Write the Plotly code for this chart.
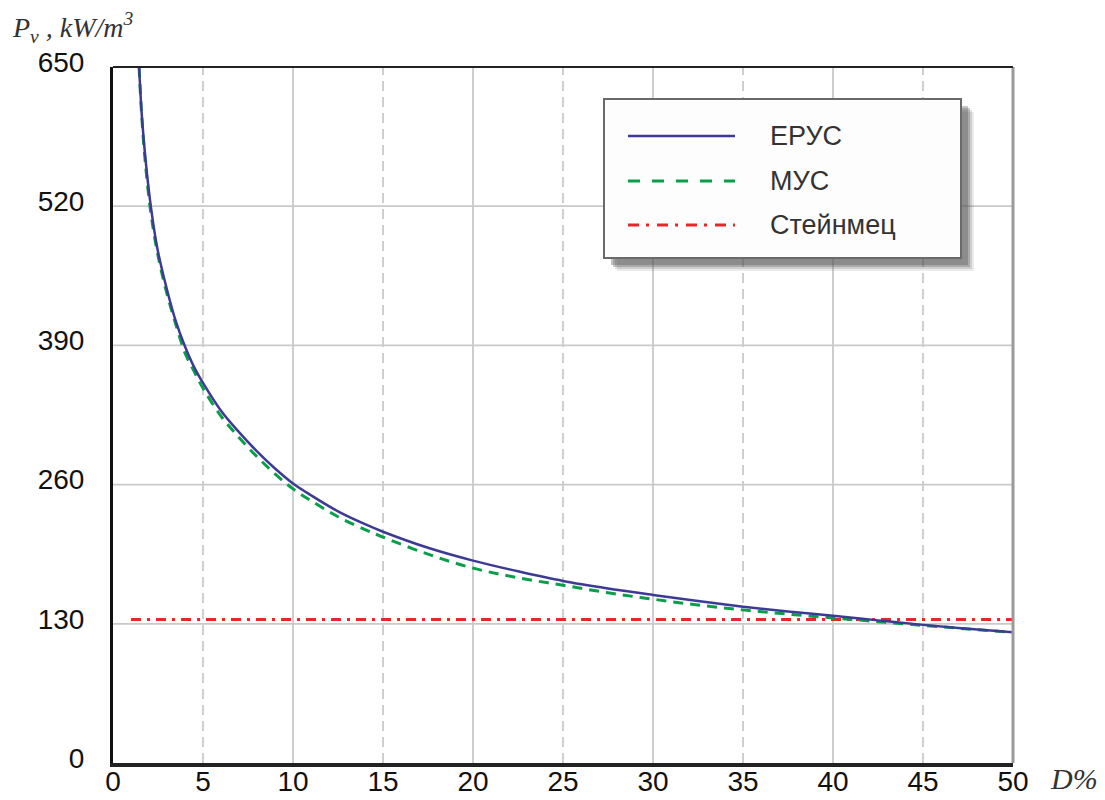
import plotly.graph_objects as go

# ---------------- data ----------------
x_erus = [1.45, 1.6, 1.8, 2.1, 2.47, 3.0, 3.5, 4.0, 4.5, 5, 6, 7, 8, 9, 10, 11, 12.5, 14, 15,
          17.5, 20, 22.5, 25, 27.5, 30, 32.5, 35, 37.5, 40, 42.5, 45, 47.5, 50]
y_erus = [650, 605, 565, 520, 480, 442, 412, 389, 370, 355, 329, 309, 291, 275, 261, 250, 235, 223, 216,
          201, 189, 179, 170, 163, 157, 151.2, 146, 141.5, 137.5, 133.2, 129.0, 125.4, 122]

x_mus = [1.45, 1.6, 1.8, 2.1, 2.5, 3.0, 3.5, 4.0, 4.5, 5, 6, 7, 8, 9, 10, 11, 12.5, 14, 15,
         17.5, 20, 22.5, 25, 27.5, 30, 32.5, 35, 37.5, 40, 42.5, 45, 47.5, 50]
y_mus = [650, 603, 560, 514, 474, 438, 409, 383, 366, 350, 324, 304, 286, 270, 256, 245, 230, 218, 211,
         195, 182, 173, 166, 159, 153, 147.5, 143, 139, 135.5, 132, 128.5, 125.2, 122]

x_stein = [1.0, 50.0]
y_stein = [134, 134]

x_ticks = [0, 5, 10, 15, 20, 25, 30, 35, 40, 45, 50]
y_ticks = [0, 130, 260, 390, 520, 650]
series_names = ["ЕРУС", "МУС", "Стейнмец"]

# ---------------- styling ----------------
W, H = 1105, 800
L, R, T, B = 113, 1013, 67, 763
C_ERUS = "#3d3a96"
C_MUS = "#0a9e48"
C_STEIN = "#e8262b"
GRID = "#c9c9c9"


def px(x):
    return (x - L) / (R - L)


def py(y):
    return (B - y) / (B - T)


fig = go.Figure()
fig.add_trace(go.Scatter(x=x_stein, y=y_stein, mode="lines", name=series_names[2],
                         line=dict(color=C_STEIN, width=2.8, dash="10px,6px,3px,6px"),
                         showlegend=False))
fig.add_trace(go.Scatter(x=x_mus, y=y_mus, mode="lines", name=series_names[1],
                         line=dict(color=C_MUS, width=3, dash="10px,7px", shape="spline", smoothing=1.0),
                         showlegend=False))
fig.add_trace(go.Scatter(x=x_erus, y=y_erus, mode="lines", name=series_names[0],
                         line=dict(color=C_ERUS, width=2.5, shape="spline", smoothing=1.0),
                         showlegend=False))

shapes = []
# grid lines
for xv in x_ticks[1:-1]:
    shapes.append(dict(type="line", xref="x", yref="paper", x0=xv, x1=xv, y0=0, y1=1,
                       line=dict(color=GRID, width=1.8, dash=("10px,6px" if xv % 10 == 5 else "solid")),
                       layer="below"))
for yv in y_ticks[1:-1]:
    shapes.append(dict(type="line", xref="paper", yref="y", x0=0, x1=1, y0=yv, y1=yv,
                       line=dict(color=GRID, width=1.8), layer="below"))
# frame: right gray, top black
shapes.append(dict(type="line", xref="paper", yref="paper", x0=1, x1=1, y0=0, y1=1,
                   line=dict(color="#9a9a9a", width=3), layer="above"))
shapes.append(dict(type="line", xref="paper", yref="paper", x0=0, x1=1, y0=1, y1=1,
                   line=dict(color="#222222", width=2), layer="above"))

# legend box with soft shadow
bx0, bx1, by0, by1 = 604, 961, 99, 258
for off, op in [(13, 0.12), (11, 0.18), (9, 0.3), (7, 0.35)]:
    shapes.append(dict(type="rect", xref="paper", yref="paper",
                       x0=px(bx0 + off), x1=px(bx1 + off), y0=py(by1 + off), y1=py(by0 + off),
                       fillcolor="#555555", opacity=op, line=dict(width=0), layer="above"))
shapes.append(dict(type="rect", xref="paper", yref="paper",
                   x0=px(bx0), x1=px(bx1), y0=py(by1), y1=py(by0),
                   fillcolor="#fdfdfd", line=dict(color="#6a6a6a", width=2), layer="above"))
leg_y = [136, 181, 225]
leg_style = [(C_ERUS, "solid", 2.5), (C_MUS, "12px,12px", 3), (C_STEIN, "11px,7px,3px,8px", 3)]
for ly, (c, d, w) in zip(leg_y, leg_style):
    shapes.append(dict(type="line", xref="paper", yref="paper", x0=px(628), x1=px(735), y0=py(ly), y1=py(ly),
                       line=dict(color=c, width=w, dash=d), layer="above"))

annotations = []
for ly, name in zip(leg_y, series_names):
    annotations.append(dict(xref="paper", yref="paper", x=px(768), y=py(ly), text=name, showarrow=False,
                            xanchor="left", yanchor="middle",
                            font=dict(family="Liberation Sans, Arial, sans-serif", size=27, color="#333333")))
annotations.append(dict(xref="paper", yref="paper", x=px(10), y=py(6),
                        text="<i>P<sub>v</sub> , kW/m<sup>3</sup></i>", showarrow=False,
                        xanchor="left", yanchor="top",
                        font=dict(family="Liberation Serif, Times New Roman, serif", size=28, color="#333333")))
annotations.append(dict(xref="paper", yref="paper", x=px(1048), y=py(797),
                        text="<i>D%</i>", showarrow=False, xanchor="left", yanchor="bottom",
                        font=dict(family="Liberation Serif, Times New Roman, serif", size=30, color="#333333")))

fig.update_layout(
    width=W, height=H,
    margin=dict(l=L, r=W - R, t=T, b=H - B, pad=0),
    paper_bgcolor="white", plot_bgcolor="white",
    showlegend=False,
    shapes=shapes,
    annotations=annotations,
    xaxis=dict(range=[0, 50], tickvals=x_ticks, ticktext=[str(v) for v in x_ticks],
               showgrid=False, zeroline=False, showline=True, linecolor="#222222", linewidth=4,
               ticks="", ticklabelstandoff=-10, automargin=False,
               tickfont=dict(family="Liberation Sans, Arial, sans-serif", size=28, color="#111111")),
    yaxis=dict(range=[0, 650], tickvals=y_ticks, ticktext=[str(v) for v in y_ticks],
               showgrid=False, zeroline=False, showline=True, linecolor="#111111", linewidth=3,
               ticks="", ticklabelstandoff=20, ticklabelshift=-5, automargin=False,
               tickfont=dict(family="Liberation Sans, Arial, sans-serif", size=28, color="#111111")),
)

fig.write_html("out.html")
